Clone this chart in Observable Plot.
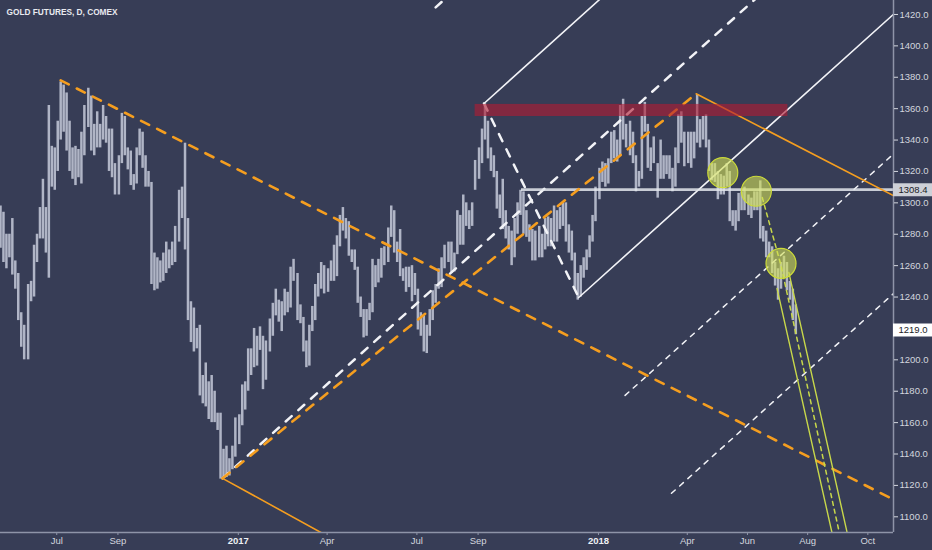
<!DOCTYPE html>
<html><head><meta charset="utf-8">
<script src="https://cdn.jsdelivr.net/npm/d3@7"></script>
<script src="https://cdn.jsdelivr.net/npm/@observablehq/plot@0.6"></script>
<style>
html,body{margin:0;padding:0;background:#373d56;overflow:hidden;}
#chart svg{display:block;}
</style></head>
<body><div id="chart"></div>
<script>
// ---------- DATA ----------
const title = "GOLD FUTURES, D, COMEX";

// 3-day bins per month (bins centred on day 2, 5, 8, ... of each month)
const barMonths = ["2016-05","2016-06","2016-07","2016-08","2016-09","2016-10","2016-11","2016-12",
  "2017-01","2017-02","2017-03","2017-04","2017-05","2017-06","2017-07","2017-08","2017-09","2017-10","2017-11","2017-12",
  "2018-01","2018-02","2018-03","2018-04","2018-05","2018-06","2018-07"];
const barHigh = [
  [1306,1298,1294,1280,1280,1290,1263,1255,1230,1222],
  [1248,1250,1273,1280,1297,1315,1297,1362,1336,1335],
  [1352,1377,1375,1370,1352,1335,1336,1334,1345,1362],
  [1373,1368,1350,1358,1350,1362,1355,1347,1347,1325],
  [1330,1357,1355,1335,1333,1318,1335,1347,1345,1330],
  [1320,1313,1268,1265,1263,1268,1275,1270,1275,1285],
  [1308,1310,1338,1290,1237,1233,1220,1222,1190,1198],
  [1186,1190,1180,1166,1166,1143,1145,1137,1145,1163],
  [1165,1184,1186,1207,1207,1220,1215,1221,1215,1212],
  [1226,1236,1245,1238,1237,1245,1243,1259,1264],
  [1255,1235,1227,1212,1222,1234,1248,1255,1262,1260],
  [1258,1263,1273,1279,1292,1297,1290,1288,1270,1270],
  [1259,1240,1232,1232,1236,1264,1260,1264,1271,1272],
  [1284,1298,1295,1275,1283,1258,1259,1259,1260,1255],
  [1245,1230,1228,1222,1232,1244,1248,1258,1265,1273],
  [1275,1275,1268,1295,1292,1305,1300,1295,1300,1327],
  [1335,1347,1363,1352,1335,1330,1320,1305,1315,1295],
  [1285,1282,1290,1300,1308,1307,1295,1286,1283,1282],
  [1285,1280,1290,1291,1290,1298,1295,1297,1300,1300],
  [1286,1282,1268,1255,1260,1265,1270,1279,1292,1310],
  [1322,1326,1325,1328,1345,1346,1340,1362,1366,1350],
  [1352,1345,1330,1320,1355,1364,1350,1335,1342],
  [1325,1340,1330,1330,1330,1322,1335,1356,1358,1345],
  [1345,1345,1345,1369,1353,1355,1356,1340,1325,1325],
  [1320,1318,1317,1325,1320,1295,1295,1306,1307,1310],
  [1305,1303,1307,1307,1314,1285,1282,1275,1272,1262],
  [1258,1262,1266,1262,1250,1245,1235]
];
const barLow = [
  [1285,1271,1262,1258,1265,1254,1245,1225,1208,1200],
  [1200,1237,1240,1262,1277,1277,1268,1252,1310,1308],
  [1320,1340,1345,1333,1320,1315,1311,1316,1312,1330],
  [1348,1333,1330,1335,1335,1340,1338,1320,1316,1305],
  [1305,1325,1330,1321,1311,1308,1312,1330,1322,1310],
  [1310,1248,1244,1245,1249,1250,1255,1258,1260,1262],
  [1275,1290,1270,1225,1211,1205,1207,1177,1172,1170],
  [1162,1160,1160,1155,1124,1125,1125,1126,1130,1138],
  [1146,1158,1168,1180,1190,1195,1196,1206,1181,1187],
  [1205,1215,1228,1224,1218,1228,1230,1233,1250],
  [1225,1223,1205,1195,1196,1218,1225,1240,1245,1242],
  [1243,1250,1250,1253,1272,1282,1277,1266,1262,1257],
  [1236,1227,1214,1215,1225,1230,1246,1249,1252,1260],
  [1262,1278,1268,1262,1253,1250,1243,1246,1237,1241],
  [1219,1215,1205,1204,1215,1225,1236,1245,1246,1258],
  [1262,1255,1256,1267,1273,1273,1285,1283,1285,1308],
  [1315,1325,1340,1328,1320,1316,1296,1290,1283,1277],
  [1270,1260,1265,1280,1292,1280,1278,1275,1263,1263],
  [1265,1265,1270,1272,1272,1275,1275,1283,1285,1275],
  [1268,1263,1245,1238,1240,1252,1257,1265,1275,1288],
  [1302,1313,1310,1312,1325,1328,1326,1330,1340,1335],
  [1330,1325,1307,1310,1315,1345,1322,1320,1325],
  [1303,1315,1315,1318,1315,1307,1310,1325,1338,1323],
  [1325,1322,1328,1338,1335,1340,1335,1320,1314,1313],
  [1302,1305,1305,1310,1288,1285,1282,1288,1295,1295],
  [1292,1290,1295,1295,1277,1275,1265,1265,1255,1247],
  [1238,1245,1252,1244,1238,1225,1216]
];

// axes
const xDomain = ["2016-05-05", "2018-10-27"];
const yDomain = [1090, 1428.9];
const yTicks = [1100,1120,1140,1160,1180,1200,1220,1240,1260,1280,1300,1320,1340,1360,1380,1400,1420];
const xTickDates = ["2016-07-01","2016-09-01","2017-01-01","2017-04-01","2017-07-01","2017-09-01","2018-01-01","2018-04-01","2018-06-01","2018-08-01","2018-10-01"];
const xTickLabels = ["Jul","Sep","2017","Apr","Jul","Sep","2018","Apr","Jun","Aug","Oct"];

// pitchfork pivots (date, price)
const pivotA = ["2016-12-16", 1124.5];
const pivotB = ["2017-09-07", 1363.3];
const pivotC = ["2017-12-12", 1239.7];
const warnStarts = {upper: "2017-07-20", lower1: "2018-01-28", lower2: "2018-03-16"};

// orange trend lines
const orangeDashed1 = [["2016-07-05", 1378], ["2018-11-15", 1105]];
const orangeDashed2 = [["2016-12-16", 1124.5], ["2018-04-10", 1369.5]];
const orangeSolid1 = [["2016-12-16", 1124.5], ["2017-04-15", 1083]];
const orangeSolid2 = [["2018-04-10", 1369.5], ["2018-11-10", 1300]];

// resistance zone and level
const zoneDates = ["2017-08-29", "2018-07-12"];
const zonePrices = [1355, 1362.7];
const levelStart = "2017-10-15";
const levelPrice = 1308.4;
const lastPrice = 1219.0;

// highlight circles
const circles = [["2018-05-07", 1319.2], ["2018-06-10", 1307.4], ["2018-07-05", 1261.4]];

// descending channel
const channelMid = [["2018-06-16", 1303.4], ["2018-07-05", 1260.1], ["2018-09-05", 1081.5]];
const channelLeft = [["2018-07-01", 1245.4], ["2018-08-29", 1080.6]];
const channelRight = [["2018-07-13", 1255.6], ["2018-09-14", 1078.7]];

// ---------- BUILD ----------
const parse = s => new Date(s + "T00:00:00Z");
const bars = [];
barMonths.forEach((m, i) => {
  const [yy, mm] = m.split("-").map(Number);
  barHigh[i].forEach((h, k) => bars.push({date: new Date(Date.UTC(yy, mm - 1, 2 + 3 * k)), high: h, low: barLow[i][k]}));
});
const pts = arr => arr.map(([d, p]) => ({date: parse(d), price: p}));

const A = {t: parse(pivotA[0]), p: pivotA[1]};
const B = {t: parse(pivotB[0]), p: pivotB[1]};
const C = {t: parse(pivotC[0]), p: pivotC[1]};
const M = {t: (+B.t + +C.t) / 2, p: (B.p + C.p) / 2};
const slope = (M.p - A.p) / (M.t - +A.t);
const W = B.p + slope * (C.t - B.t) - C.p;
const farEnd = parse("2019-03-01");
const ray = (t0, tRef, pRef) => [
  {date: t0, price: pRef + slope * (t0 - tRef)},
  {date: farEnd, price: pRef + slope * (farEnd - tRef)}
];
const median = ray(A.t, A.t, A.p);
const upperTine = ray(B.t, B.t, B.p);
const lowerTine = ray(C.t, C.t, C.p);
const upperWarn = ray(parse(warnStarts.upper), C.t, C.p + 1.5 * W);
const lowerWarn1 = ray(parse(warnStarts.lower1), C.t, C.p - 0.5 * W);
const lowerWarn2 = ray(parse(warnStarts.lower2), C.t, C.p - W);
const bcLine = [{date: B.t, price: B.p}, {date: C.t, price: C.p}];

const xEnd = parse(xDomain[1]);
const boxEnd = new Date(+xEnd + 45 * 864e5);
const priceBoxes = [
  {price: levelPrice, from: xEnd, to: boxEnd, text: levelPrice.toFixed(1), bg: "#cdd0d7"},
  {price: lastPrice, from: xEnd, to: boxEnd, text: lastPrice.toFixed(1), bg: "#ffffff"}
];
const xLabels = xTickDates.map((d, i) => ({date: parse(d), label: xTickLabels[i], year: /^\d{4}$/.test(xTickLabels[i])}));

const ORANGE = "#f59e1f", WHITE = "#f2f3f7", LIME = "#c8d84a";
const L = (data, o) => Plot.line(data, {x: "date", y: "price", clip: true, ...o});

const chart = Plot.plot({
  width: 932, height: 550,
  marginLeft: 0, marginRight: 39, marginTop: 0, marginBottom: 18,
  style: {background: "#373d56", color: "#c9cdd8", fontFamily: "Liberation Sans, Arial, sans-serif", fontSize: "9.5px"},
  x: {type: "utc", domain: xDomain.map(parse), axis: null},
  y: {domain: yDomain, axis: null},
  marks: [
    Plot.ruleX(bars, {x: "date", y1: "low", y2: "high", stroke: "#b0b5c6", strokeWidth: 2.5, clip: true}),
    // pitchfork
    L(median, {stroke: WHITE, strokeWidth: 2.5, strokeDasharray: "8,9"}),
    L(bcLine, {stroke: WHITE, strokeWidth: 2.5, strokeDasharray: "8,9"}),
    L(upperWarn, {stroke: WHITE, strokeWidth: 2.5, strokeDasharray: "8,9"}),
    L(upperTine, {stroke: WHITE, strokeWidth: 1.6}),
    L(lowerTine, {stroke: WHITE, strokeWidth: 1.6}),
    L(lowerWarn1, {stroke: WHITE, strokeWidth: 1.5, strokeDasharray: "5,6"}),
    L(lowerWarn2, {stroke: WHITE, strokeWidth: 1.5, strokeDasharray: "5,6"}),
    // horizontal level
    Plot.ruleY([{price: levelPrice, from: parse(levelStart), to: xEnd}], {y: "price", x1: "from", x2: "to", stroke: "#e3e6ec", strokeOpacity: 0.85, strokeWidth: 2.6}),
    // orange lines
    L(pts(orangeDashed1), {stroke: ORANGE, strokeWidth: 2.6, strokeDasharray: "9,9"}),
    L(pts(orangeDashed2), {stroke: ORANGE, strokeWidth: 2.6, strokeDasharray: "9,9"}),
    L(pts(orangeSolid1), {stroke: ORANGE, strokeWidth: 1.6}),
    L(pts(orangeSolid2), {stroke: ORANGE, strokeWidth: 1.6}),
    // channel
    L(pts(channelMid), {stroke: LIME, strokeWidth: 1.5, strokeDasharray: "4,4"}),
    L(pts(channelLeft), {stroke: LIME, strokeWidth: 1.4}),
    L(pts(channelRight), {stroke: LIME, strokeWidth: 1.4}),
    Plot.dot(pts(circles), {x: "date", y: "price", r: 15, fill: "#d4e157", fillOpacity: 0.6, stroke: "#cddc39", strokeWidth: 1.2}),
    // resistance zone
    Plot.rect([{x1: parse(zoneDates[0]), x2: parse(zoneDates[1]), y1: zonePrices[0], y2: zonePrices[1]}], {x1: "x1", x2: "x2", y1: "y1", y2: "y2", fill: "#b01c33", fillOpacity: 0.62}),
    // axes
    Plot.ruleY([yDomain[0]], {stroke: "#8e94a8", strokeWidth: 1.5}),
    Plot.ruleX([xEnd], {stroke: "#8e94a8", strokeWidth: 1.5}),
    Plot.axisY({anchor: "right", ticks: yTicks, tickFormat: d => d.toFixed(1), tickSize: 4, tickPadding: 2, color: "#d3d6de", fontSize: 9.5}),
    Plot.axisX({anchor: "bottom", ticks: xTickDates.map(parse), tickFormat: () => "", tickSize: 3, color: "#8e94a8"}),
    Plot.text(xLabels.filter(d => !d.year), {x: "date", text: "label", frameAnchor: "bottom", dy: 11, fill: "#d3d6de", fontSize: 9.5}),
    Plot.text(xLabels.filter(d => d.year), {x: "date", text: "label", frameAnchor: "bottom", dy: 11, fill: "#eef0f4", fontSize: 9.5, fontWeight: "bold"}),
    // price boxes
    Plot.ruleY(priceBoxes, {y: "price", x1: "from", x2: "to", stroke: "bg", strokeWidth: 13}),
    Plot.text(priceBoxes, {x: "from", y: "price", text: "text", dx: 5, textAnchor: "start", fill: "#1a1d26", fontSize: 9.5}),
    // title
    Plot.text([title], {frameAnchor: "top-left", dx: 6, dy: 12, textAnchor: "start", lineAnchor: "middle", fontWeight: "bold", fontSize: 8.3, fill: "#e8eaf0"})
  ]
});
document.getElementById("chart").append(chart);
</script>
</body></html>
